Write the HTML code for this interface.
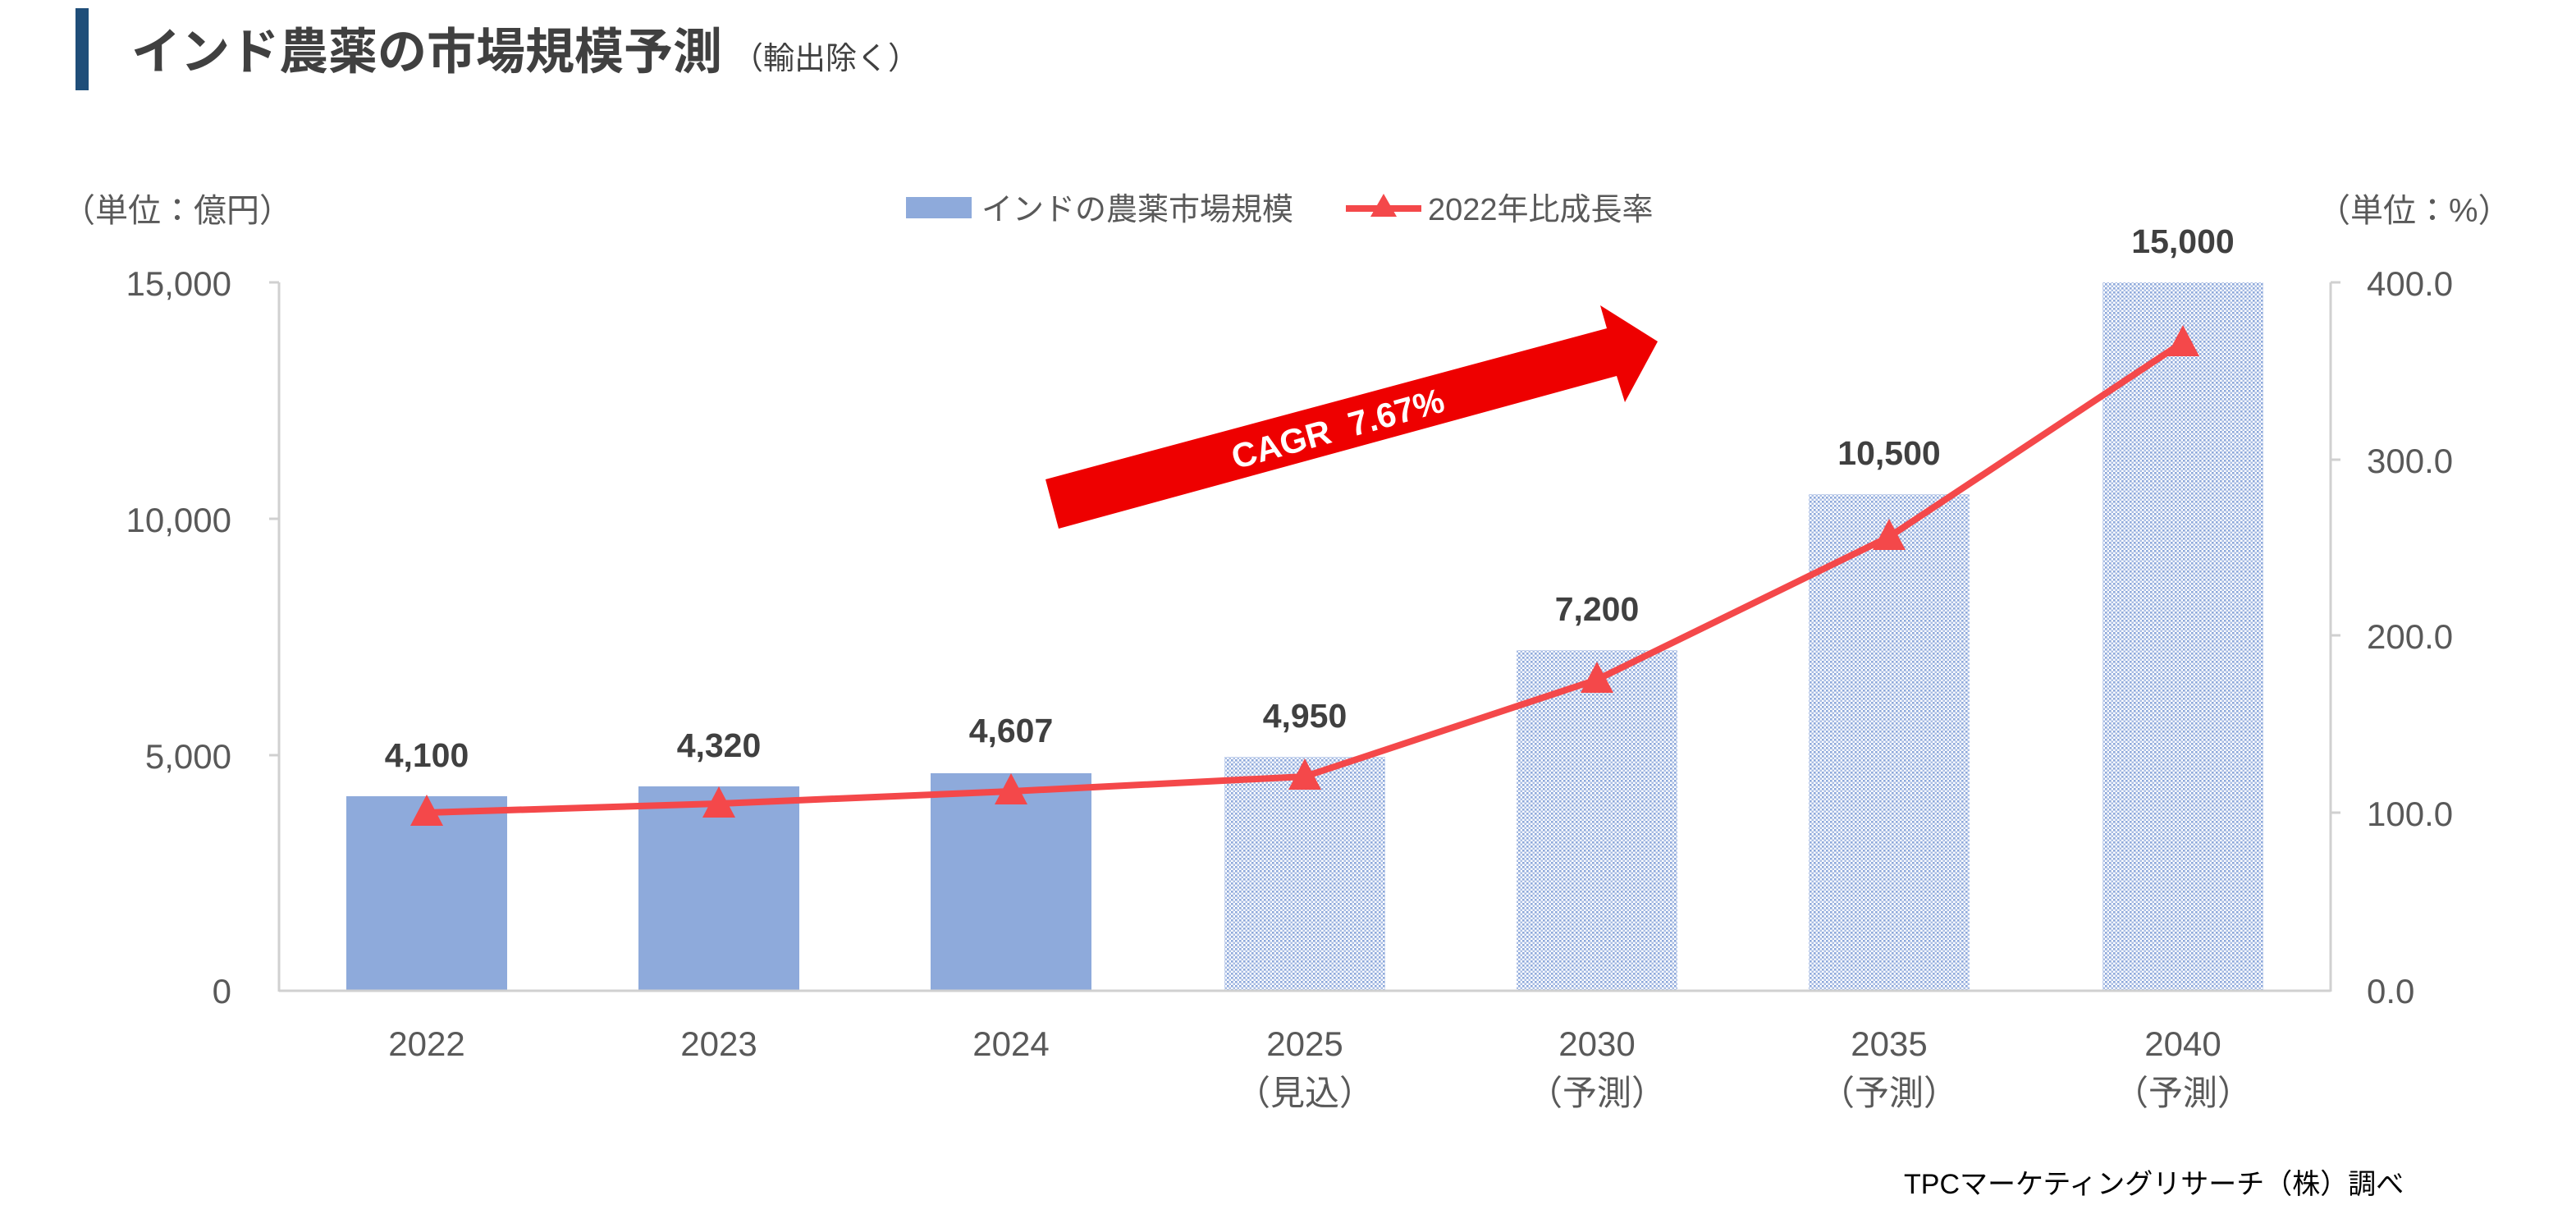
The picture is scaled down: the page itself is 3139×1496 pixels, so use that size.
<!DOCTYPE html>
<html><head><meta charset="utf-8"><style>
html,body{margin:0;padding:0;background:#fff;}
svg{display:block;font-family:"Liberation Sans","Noto Sans CJK JP",sans-serif;}
</style></head><body>
<svg width="3139" height="1496" viewBox="0 0 1569.5 748" xmlns="http://www.w3.org/2000/svg">
<defs>
<pattern id="dots" width="2.5" height="2.5" patternUnits="userSpaceOnUse">
<rect width="2.5" height="2.5" fill="#fff"/>
<rect width="1.3" height="1.3" fill="#8ea9db"/>
<rect x="1.25" y="1.25" width="1.3" height="1.3" fill="#a9bde4"/>
</pattern>
</defs>
<rect x="46" y="5" width="8" height="50" fill="#1f4e79"/>
<text x="80" y="42" font-size="30" font-weight="bold" fill="#404040">インド農薬の市場規模予測<tspan font-size="19" font-weight="normal" dx="6">（輸出除く）</tspan></text>

<text x="38" y="135" font-size="20" fill="#595959">（単位：億円）</text>
<text x="1412" y="135" font-size="20" fill="#595959">（単位：%）</text>

<rect x="552" y="120" width="40" height="13" fill="#8eaadb"/>
<text x="598" y="134" font-size="19" fill="#595959">インドの農薬市場規模</text>
<line x1="820" y1="127" x2="866" y2="127" stroke="#f4484a" stroke-width="4"/>
<polygon points="843,118 851,132 835,132" fill="#f4484a"/>
<text x="870" y="134" font-size="19" fill="#595959">2022年比成長率</text>

<g font-size="21" fill="#595959" text-anchor="end">
<text x="141" y="180">15,000</text>
<text x="141" y="324">10,000</text>
<text x="141" y="468">5,000</text>
<text x="141" y="611">0</text>
</g>
<g font-size="21" fill="#595959">
<text x="1442" y="180">400.0</text>
<text x="1442" y="288">300.0</text>
<text x="1442" y="395">200.0</text>
<text x="1442" y="503">100.0</text>
<text x="1442" y="611">0.0</text>
</g>
<g stroke="#d0d0d0" stroke-width="1.5">
<line x1="170" y1="172" x2="170" y2="604"/>
<line x1="1420" y1="172" x2="1420" y2="604"/>
<line x1="164" y1="172" x2="170" y2="172"/><line x1="164" y1="316" x2="170" y2="316"/><line x1="164" y1="460" x2="170" y2="460"/>
<line x1="1420" y1="172" x2="1426" y2="172"/><line x1="1420" y1="280" x2="1426" y2="280"/><line x1="1420" y1="387" x2="1426" y2="387"/><line x1="1420" y1="495" x2="1426" y2="495"/>
</g>

<rect x="211" y="485" width="98" height="118" fill="#8eaadb"/>
<rect x="389" y="479" width="98" height="124" fill="#8eaadb"/>
<rect x="567" y="471" width="98" height="132" fill="#8eaadb"/>
<rect x="746" y="461" width="98" height="142" fill="url(#dots)"/>
<rect x="924" y="396" width="98" height="207" fill="url(#dots)"/>
<rect x="1102" y="301" width="98" height="302" fill="url(#dots)"/>
<rect x="1281" y="172" width="98" height="431" fill="url(#dots)"/>
<line x1="170" y1="603.5" x2="1420" y2="603.5" stroke="#d0d0d0" stroke-width="1.5"/>

<g font-size="20.5" font-weight="bold" fill="#404040" text-anchor="middle">
<text x="260" y="467">4,100</text>
<text x="438" y="461">4,320</text>
<text x="616" y="452">4,607</text>
<text x="795" y="443">4,950</text>
<text x="973" y="378">7,200</text>
<text x="1151" y="283">10,500</text>
<text x="1330" y="154">15,000</text>
</g>

<polyline points="260,495 438,489.5 616,482 795,473 973,414 1151,327 1330,208.5" fill="none" stroke="#f4484a" stroke-width="4" stroke-linejoin="round"/>
<g fill="#f4484a">
<polygon points="260,484 270,503 250,503"/>
<polygon points="438,479 448,498 428,498"/>
<polygon points="616,471 626,490 606,490"/>
<polygon points="795,462 805,481 785,481"/>
<polygon points="973,403 983,422 963,422"/>
<polygon points="1151,316 1161,335 1141,335"/>
<polygon points="1330,198 1340,217 1320,217"/>
</g>

<polygon points="637,292 979,200 975,186 1010,208 990,245 985,229 645,322" fill="#ee0000"/>
<text x="0" y="0" font-size="21" font-weight="bold" fill="#fff" text-anchor="middle" transform="translate(817,268) rotate(-15.5)">CAGR<tspan dx="12">7.67%</tspan></text>

<g font-size="21" fill="#595959" text-anchor="middle">
<text x="260" y="643">2022</text>
<text x="438" y="643">2023</text>
<text x="616" y="643">2024</text>
<text x="795" y="643">2025</text>
<text x="973" y="643">2030</text>
<text x="1151" y="643">2035</text>
<text x="1330" y="643">2040</text>
<text x="795" y="673">（見込）</text>
<text x="973" y="673">（予測）</text>
<text x="1151" y="673">（予測）</text>
<text x="1330" y="673">（予測）</text>
</g>
<text x="1160" y="727" font-size="17" fill="#000">TPCマーケティングリサーチ（株）調べ</text>
</svg>
</body></html>
